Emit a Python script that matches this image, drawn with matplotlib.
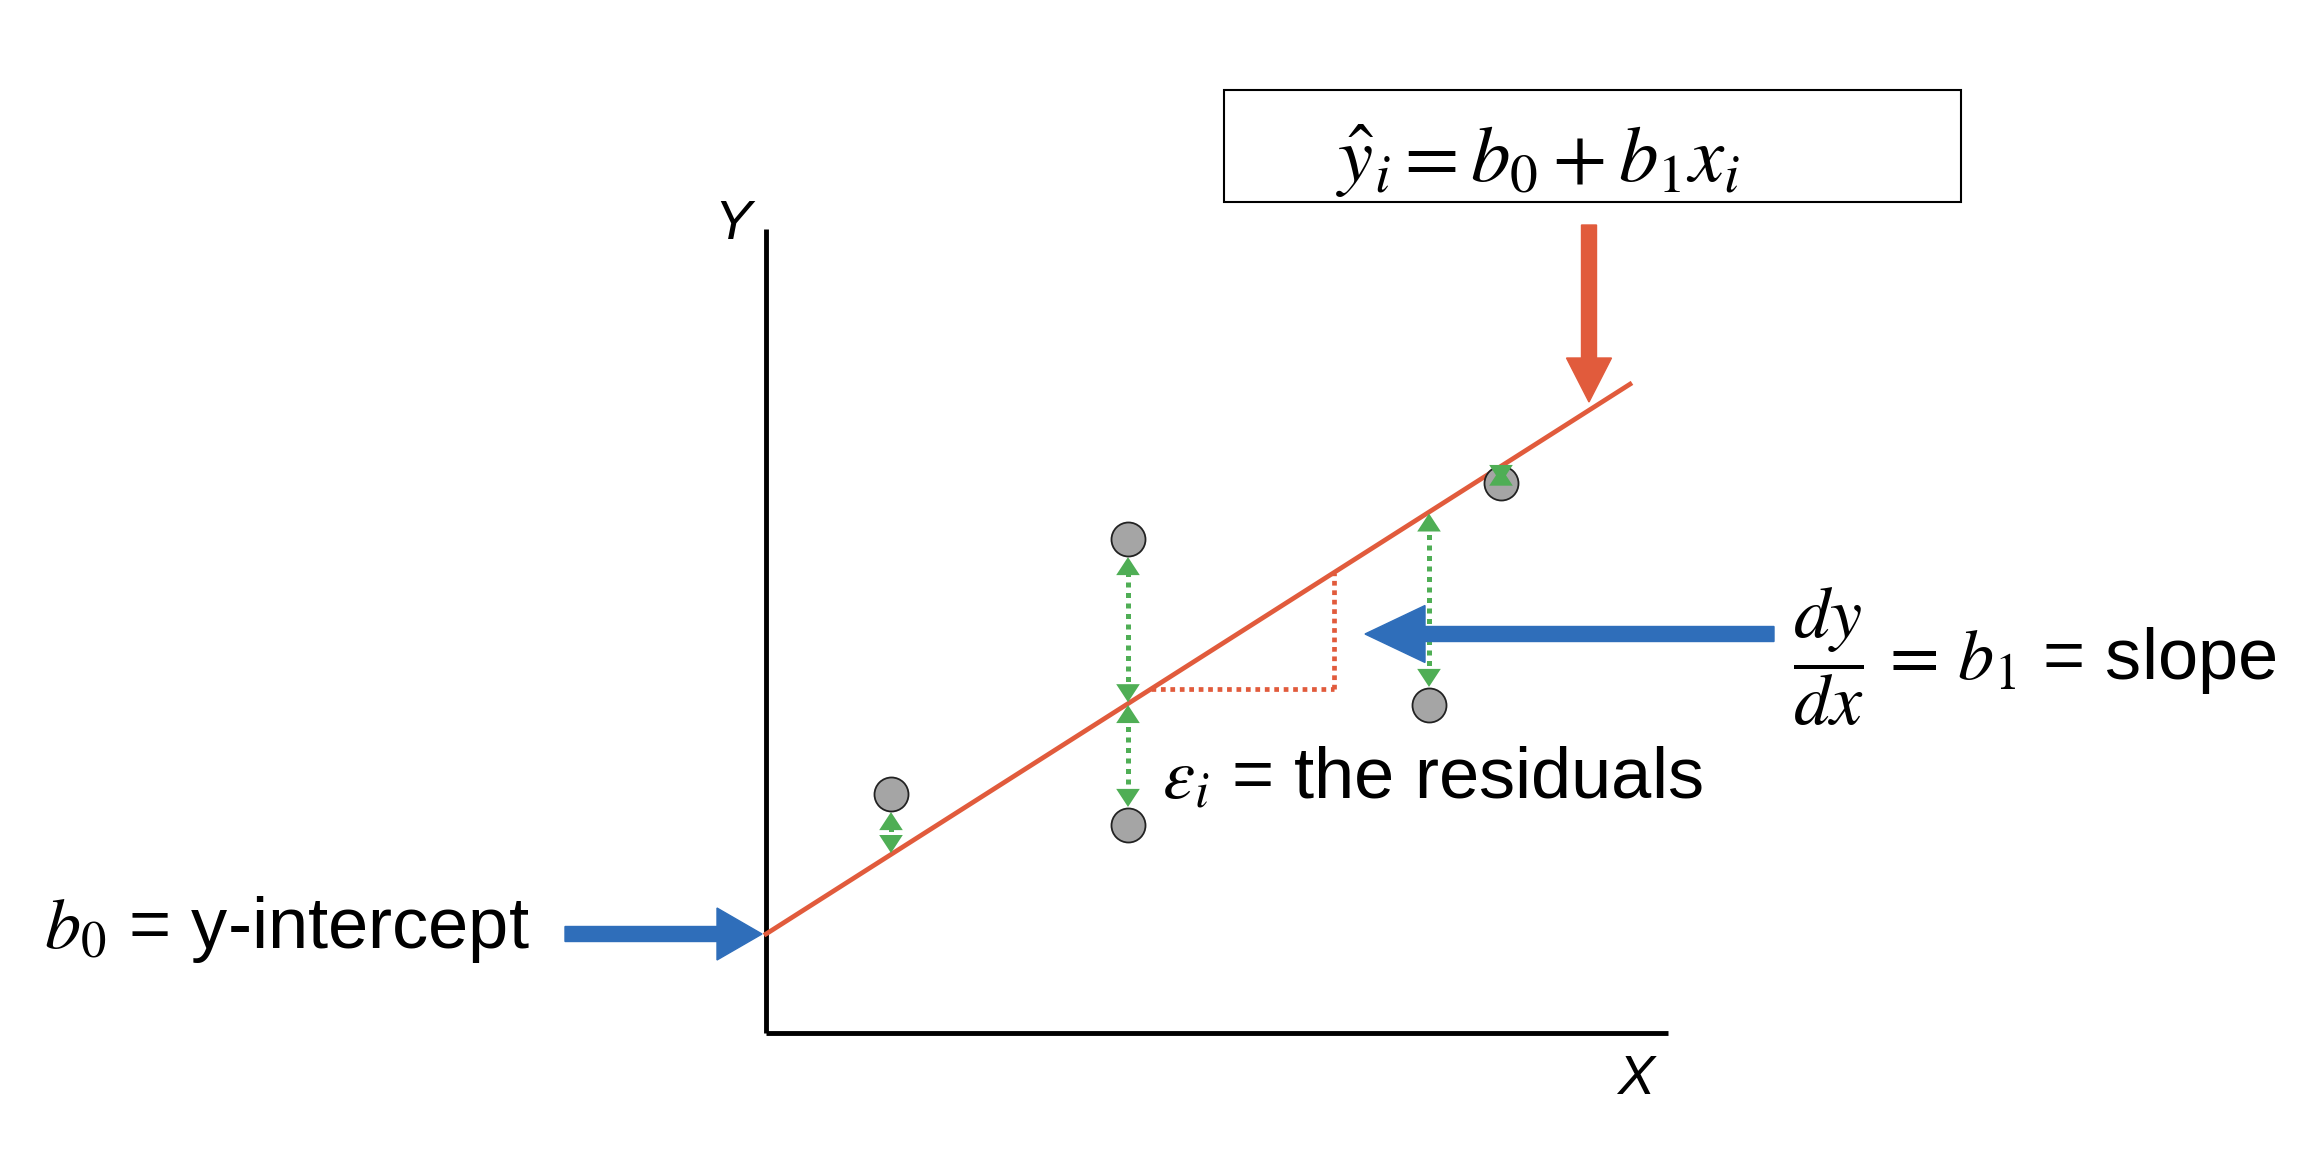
import matplotlib
matplotlib.use("Agg")
import matplotlib.pyplot as plt
import numpy as np

plt.rcParams['font.family'] = ['Liberation Sans', 'DejaVu Sans']
plt.rcParams['mathtext.fontset'] = 'stix'

# regression line and observed points (data units)
b0 = 0.99
b1 = 0.6364
line_x = [0.0, 8.64]
point_x = [1.25, 3.62, 3.62, 6.63, 7.35]
point_y = [2.39, 4.94, 2.08, 3.28, 5.50]
axis_len_x = 9.02
axis_len_y = 8.04

# colours
RED = '#E15B3C'
BLUE = '#2F6EBA'
GREEN = '#4FAE55'
GREY = '#A5A5A5'

fig = plt.figure(figsize=(23.24, 11.62), dpi=100)
ax = fig.add_axes([0, 0, 1, 1])
ax.set_xlim(-7.66, 15.58)
ax.set_ylim(-1.29, 10.33)
ax.axis('off')

# axes of the diagram
ax.plot([0, 0], [0, axis_len_y], color='black', lw=3.5, solid_capstyle='butt')
ax.plot([0, axis_len_x], [0, 0], color='black', lw=3.5, solid_capstyle='butt')
ax.text(-0.33, 8.08, 'Y', fontsize=40, style='italic', ha='center', va='center')
ax.text(8.70, -0.47, 'X', fontsize=40, style='italic', ha='center', va='center')

# fitted line
lx = np.array(line_x)
ax.plot(lx, b0 + b1 * lx, color=RED, lw=3.4, zorder=3)

# slope triangle
ty = 3.44
tx0 = (ty - b0) / b1
tx1 = 5.68
ax.plot([tx0, tx1], [ty, ty], color=RED, lw=3.4, ls=(0, (1, 1)), zorder=2)
ax.plot([tx1, tx1], [ty, b0 + b1 * tx1], color=RED, lw=3.4, ls=(0, (1, 1)), zorder=2)

# residual arrows: filled heads + dotted shaft
for px, py in zip(point_x, point_y):
    fy = b0 + b1 * px
    sgn = 1 if py > fy else -1
    small = abs(py - fy) < 0.3
    ax.annotate('', xy=(px, py), xytext=(px, fy),
                arrowprops=dict(arrowstyle='<|-|>,head_length=1.3,head_width=0.85',
                                color=GREEN, lw=0, shrinkA=1,
                                shrinkB=0 if small else 13),
                zorder=6 if small else 4)
    y0 = fy + sgn * 0.12
    y1 = py - sgn * 0.30
    if (y1 - y0) * sgn > 0:
        ax.plot([px, px], [y0, y1], color=GREEN, lw=3.6, ls=(0, (1, 1.1)),
                zorder=4)

# points
ax.scatter(point_x, point_y, s=600, color=GREY, edgecolor='#222222',
           linewidth=1.3, zorder=5)

# formula box
ax.text(7.72, 8.51, r'$\hat{y}_i = b_0 + b_1 x_i$', fontsize=57,
        ha='center', va='baseline')
ax.add_patch(plt.Rectangle((4.58, 8.31), 7.37, 1.12, fill=False,
                           edgecolor='black', lw=1.5))

# red arrow pointing at the line
ax.arrow(8.23, 8.08, 0, -1.77, width=0.15, head_width=0.45, head_length=0.44,
         length_includes_head=True, color=RED, zorder=6)

# slope arrow and label
ax.arrow(10.08, 3.99, -4.09, 0, width=0.15, head_width=0.57, head_length=0.6,
         length_includes_head=True, color=BLUE, zorder=6)
ax.text(10.27, 3.53, r'$\dfrac{dy}{dx}\,=\,b_1$' + ' = slope', fontsize=52,
        ha='left', va='baseline')

# intercept arrow and label
ax.arrow(-2.01, 0.99, 1.97, 0, width=0.15, head_width=0.52, head_length=0.45,
         length_includes_head=True, color=BLUE, zorder=6)
ax.text(-7.22, 0.85, r'$b_0$' + ' = y-intercept', fontsize=52,
        ha='left', va='baseline')

# residual label
ax.text(3.96, 2.35, r'$\varepsilon_i$' + ' = the residuals', fontsize=52,
        ha='left', va='baseline')

fig.savefig('out.png', dpi=100)
